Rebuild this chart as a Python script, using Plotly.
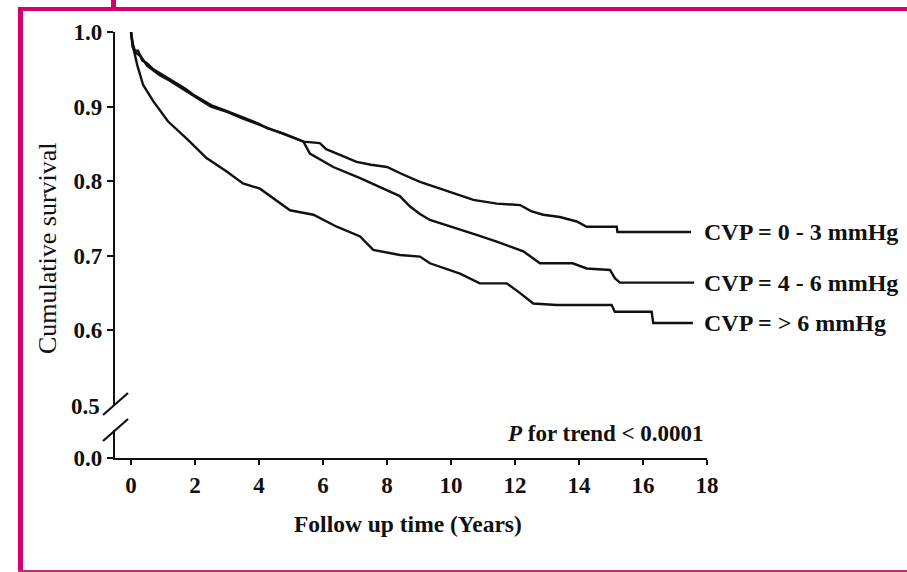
import plotly.graph_objects as go

# ---------------- data ----------------
t_cvp_0_3 = [0, 0.05, 0.12, 0.22, 0.35, 0.5, 0.7, 0.9, 1.2, 1.45, 1.7, 1.95, 2.2, 2.5, 3.0,
             3.5, 4.0, 4.25, 4.76, 5.39, 5.9, 6.1, 6.5, 7.05, 7.5, 8.0, 8.5, 9.03, 9.66,
             10.2, 10.7, 11.43, 12.16, 12.5, 12.88, 13.4, 13.93, 14.24, 15.18, 15.2, 17.5]
s_cvp_0_3 = [1.0, 0.985, 0.975, 0.975, 0.962, 0.958, 0.950, 0.945, 0.937, 0.931, 0.924, 0.916,
             0.910, 0.902, 0.894, 0.886, 0.877, 0.871, 0.864, 0.853, 0.851, 0.843, 0.836, 0.826,
             0.822, 0.819, 0.809, 0.799, 0.790, 0.782, 0.775, 0.770, 0.768, 0.760, 0.755, 0.752,
             0.746, 0.739, 0.739, 0.732, 0.732]

t_cvp_4_6 = [0, 0.05, 0.15, 0.3, 0.5, 0.7, 0.9, 1.2, 1.45, 1.7, 1.95, 2.2, 2.5, 3.0, 3.5, 4.0,
             4.25, 4.76, 5.39, 5.59, 6.32, 7.16, 8.0, 8.4, 8.72, 9.03, 9.34, 10.18, 10.8, 11.43,
             12.26, 12.78, 13.8, 14.24, 14.97, 15.12, 15.28, 17.6]
s_cvp_4_6 = [1.0, 0.980, 0.972, 0.968, 0.955, 0.948, 0.942, 0.935, 0.928, 0.922, 0.915, 0.908,
             0.900, 0.893, 0.884, 0.876, 0.871, 0.863, 0.853, 0.837, 0.819, 0.804, 0.788, 0.780,
             0.766, 0.756, 0.748, 0.737, 0.728, 0.719, 0.706, 0.690, 0.690, 0.683, 0.681, 0.670,
             0.664, 0.664]

t_cvp_gt6 = [0, 0.07, 0.2, 0.38, 0.7, 1.16, 1.74, 2.36, 2.99, 3.5, 4.03, 4.5, 4.97, 5.7, 6.43,
             7.16, 7.57, 8.4, 9.03, 9.34, 10.28, 10.9, 11.74, 12.16, 12.57, 13.3, 15.02, 15.12,
             16.27, 16.32, 17.56]
s_cvp_gt6 = [1.0, 0.979, 0.955, 0.929, 0.907, 0.880, 0.857, 0.831, 0.813, 0.797, 0.790, 0.775,
             0.761, 0.755, 0.739, 0.726, 0.708, 0.701, 0.699, 0.690, 0.676, 0.663, 0.663, 0.650,
             0.636, 0.634, 0.634, 0.625, 0.625, 0.610, 0.610]

series_names = ["CVP = 0 - 3 mmHg", "CVP = 4 - 6 mmHg", "CVP = > 6 mmHg"]
x_ticks = [0, 2, 4, 6, 8, 10, 12, 14, 16, 18]
y_ticks = [0.6, 0.7, 0.8, 0.9, 1.0]
y_tick_text = ["0.6", "0.7", "0.8", "0.9", "1.0"]
p_text = "<i>P</i> for trend < 0.0001"

# ---------------- layout geometry ----------------
W, H = 907, 572
L, R, T, B = 115, 200, 32, 114
PW, PH = W - L - R, H - T - B


def px(xp):
    return (xp - L) / PW


def py(yp):
    return (H - B - yp) / PH


FONT = "Liberation Serif"
BLACK = "#111111"
PINK = "#d4006f"

fig = go.Figure()
for t, s, name in [(t_cvp_0_3, s_cvp_0_3, series_names[0]),
                   (t_cvp_4_6, s_cvp_4_6, series_names[1]),
                   (t_cvp_gt6, s_cvp_gt6, series_names[2])]:
    fig.add_trace(go.Scatter(x=t, y=s, mode="lines", name=name,
                             line=dict(color=BLACK, width=2.4), xaxis="x", yaxis="y"))
    fig.add_annotation(x=17.85, y=s[-1], xref="x", yref="y", text=name, showarrow=False,
                       xanchor="left", yanchor="middle",
                       font=dict(family=FONT, size=24, color=BLACK, weight="bold"))

# invisible trace to activate lower y-axis
fig.add_trace(go.Scatter(x=[0], y=[0], mode="markers", marker=dict(opacity=0),
                         showlegend=False, hoverinfo="skip", xaxis="x", yaxis="y2"))

TICKFONT = dict(family=FONT, size=23, color=BLACK, weight="bold")

fig.update_layout(
    width=W, height=H,
    margin=dict(l=L, r=R, t=T, b=B, pad=0),
    paper_bgcolor="white", plot_bgcolor="white",
    showlegend=False,
    xaxis=dict(range=[-0.5, 18], anchor="y2", tickvals=x_ticks,
               showline=True, linewidth=2.4, linecolor=BLACK, showgrid=False, zeroline=False,
               ticks="outside", ticklen=5, tickwidth=2, tickcolor=BLACK,
               tickfont=TICKFONT),
    yaxis=dict(domain=[py(405), 1], range=[0.5, 1.0], anchor="x",
               tickvals=y_ticks, ticktext=y_tick_text,
               showline=True, linewidth=2.4, linecolor=BLACK, showgrid=False, zeroline=False,
               ticks="outside", ticklen=6, tickwidth=2, tickcolor=BLACK,
               tickfont=TICKFONT),
    yaxis2=dict(domain=[0, py(430)], range=[0, 0.0375], anchor="x",
                tickvals=[0], ticktext=["0.0"],
                showline=True, linewidth=2.4, linecolor=BLACK, showgrid=False, zeroline=False,
                ticks="outside", ticklen=6, tickwidth=2, tickcolor=BLACK,
                tickfont=TICKFONT),
)

# axis titles and texts
fig.add_annotation(x=px(47), y=py(248), xref="paper", yref="paper", text="Cumulative survival",
                   textangle=-90, showarrow=False, xanchor="center", yanchor="middle",
                   font=dict(family=FONT, size=26, color=BLACK))
fig.add_annotation(x=px(408), y=py(524), xref="paper", yref="paper", text="Follow up time (Years)",
                   showarrow=False, xanchor="center", yanchor="middle",
                   font=dict(family=FONT, size=23.5, color=BLACK, weight="bold"))
fig.add_annotation(x=px(706), y=py(433), xref="paper", yref="paper", text=p_text,
                   showarrow=False, xanchor="right", yanchor="middle",
                   font=dict(family=FONT, size=23, color=BLACK, weight="bold"))
fig.add_annotation(x=px(102), y=py(406), xref="paper", yref="paper", text="0.5",
                   showarrow=False, xanchor="right", yanchor="middle",
                   font=TICKFONT)

# axis break marks
for (x0, y0, x1, y1) in [(103, 415, 128, 393), (103, 441, 128, 419)]:
    fig.add_shape(type="line", xref="paper", yref="paper",
                  x0=px(x0), y0=py(y0), x1=px(x1), y1=py(y1),
                  line=dict(color=BLACK, width=2.2))

# pink frame
fig.add_shape(type="line", xref="paper", yref="paper", x0=px(20.5), y0=py(9), x1=px(20.5), y1=py(573),
              line=dict(color=PINK, width=5))
fig.add_shape(type="line", xref="paper", yref="paper", x0=px(18), y0=py(9), x1=px(915), y1=py(9),
              line=dict(color=PINK, width=4))
fig.add_shape(type="line", xref="paper", yref="paper", x0=px(18), y0=py(571), x1=px(915), y1=py(571),
              line=dict(color="#b8306c", width=2))
fig.add_shape(type="line", xref="paper", yref="paper", x0=px(113.5), y0=py(-2), x1=px(113.5), y1=py(9),
              line=dict(color=PINK, width=5))

fig.write_html("out.html")
